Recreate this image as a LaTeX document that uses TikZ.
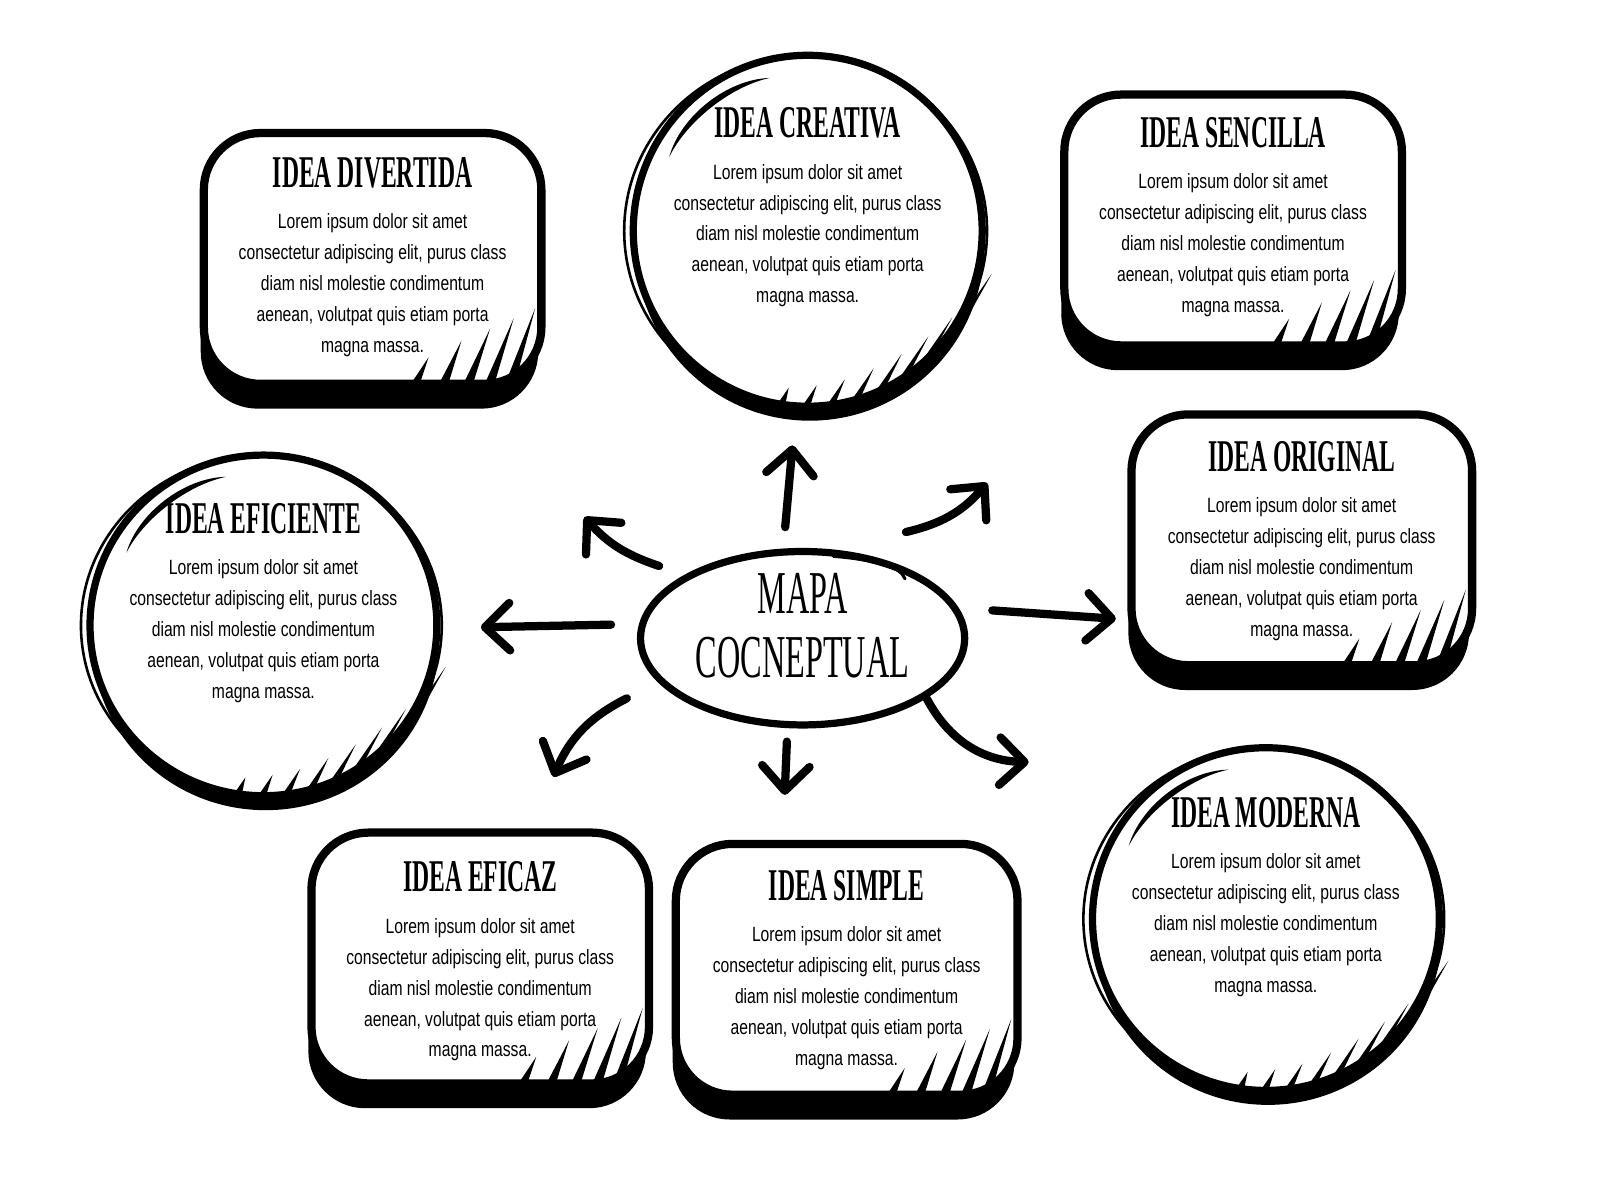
\documentclass[tikz,border=0pt]{standalone}
\usepackage{fontspec}
\usetikzlibrary{shapes.geometric,positioning,calc,shadows,arrows.meta}
\newfontfamily\titlefont[FakeStretch=0.52]{Liberation Serif}
\newfontfamily\hubfont[FakeStretch=0.53]{Liberation Serif}
\newfontfamily\bodyfont[FakeStretch=0.76]{Liberation Sans}
\newcommand{\ideatitle}[1]{{\titlefont\bfseries\fontsize{44}{44}\selectfont #1}}
\newcommand{\lorem}{Lorem ipsum dolor sit amet\\consectetur adipiscing elit, purus class\\diam nisl molestie condimentum\\aenean, volutpat quis etiam porta\\magna massa.}
% spikes in the lower right corner of a box
\newcommand{\boxhatch}[1]{%
  \foreach \bx/\tx/\ty in {-134/-114/30, -106/-82/46, -82/-54/58, -61/-31/68, -41/-10/78}
    \fill ($(#1.south east)+(\bx,0)$) -- ++(10,0) -- ($(#1.south east)+(\tx,\ty)$) -- cycle;}
% spikes along the lower right of a ball
\newcommand{\ringhatch}[1]{%
  \foreach \a/\l in {260/20, 268/26, 276/32, 284/40, 292/48, 300/56, 308/62, 316/68, 324/72}
    \fill ($(#1.center)!0.985!(#1.\a)$) -- ++(8,0) -- ++({0.57*\l-8},{0.82*\l}) -- cycle;}
% stroke in the upper left of a ball
\newcommand{\ringswoosh}[1]{%
  \fill ($(#1.center)!0.88!(#1.152)$) .. controls ($(#1.center)!0.96!(#1.138)$) and ($(#1.center)!0.96!(#1.118)$) .. ($(#1.center)!0.88!(#1.104)$)
     .. controls ($(#1.center)!0.915!(#1.118)$) and ($(#1.center)!0.915!(#1.138)$) .. cycle;}

\begin{document}
\begin{tikzpicture}[x=1pt, y=1pt]
    \tikzset{>=latex}
    \tikzstyle{ideabox}  = [rectangle, rounded corners=55pt, draw=black, line width=8pt, fill=white, minimum width=327pt, minimum height=243pt, drop shadow={shadow xshift=-3pt, shadow yshift=-24pt, opacity=1, fill=black}]
    \tikzstyle{ideaball} = [ellipse, draw=black, line width=7pt, fill=white, drop shadow={shadow xshift=2pt, shadow yshift=-14pt, opacity=1, fill=black}]
    \tikzstyle{ideatext} = [inner sep=0pt, align=center, font={\bodyfont\fontsize{20}{30}\selectfont}]
    \tikzstyle{ring}     = [line width=2.5pt]
    \tikzstyle{hub}      = [ellipse, draw=black, line width=7pt, minimum width=314pt, minimum height=168pt]
    \tikzstyle{arrow}    = [line width=8pt, line cap=round, -{Straight Barb[length=24pt, width=46pt, round]}]

    \useasboundingbox (0,0) rectangle (1550,1162.5);

  \begin{scope}[shift={(0,8)}, scale=0.993]
    % frames
    \node[ideabox] (divertida) at (363.5,910.5) {};
    \node[ideaball, minimum width=338pt, minimum height=340pt] (creativa) at (788,937.5) {};
    \node[ideabox] (sencilla) at (1203,948) {};
    \node[ideabox, minimum width=330pt] (original) at (1270,636) {};
    \node[ideaball, minimum width=336pt, minimum height=330pt] (eficiente) at (257,552.5) {};
    \node[ideabox] (eficaz) at (468.5,228) {};
    \node[ideabox, minimum width=331pt] (simple) at (826,217) {};
    \node[ideaball, minimum width=336pt, minimum height=332pt] (moderna) at (1235,266) {};
    \node[hub] (map) at (783,540) {};

    % sketchy extras
    \boxhatch{divertida}
    \boxhatch{sencilla}
    \boxhatch{original}
    \boxhatch{eficaz}
    \boxhatch{simple}
    \ringhatch{creativa}
    \ringhatch{eficiente}
    \ringhatch{moderna}
    \ringswoosh{creativa}
    \ringswoosh{eficiente}
    \ringswoosh{moderna}
    \draw[ring] ([xshift=-2pt]creativa.center) ellipse [x radius=177, y radius=171];
    \draw[ring] ([xshift=-2pt]eficiente.center) ellipse [x radius=176, y radius=166];
    \draw[ring] ([xshift=-2pt]moderna.center) ellipse [x radius=176, y radius=167];
    \draw[line width=3pt, line cap=round] ($(map.center)+(30,80)$) .. controls ($(map.center)+(75,76)$) and ($(map.center)+(95,70)$) .. ($(map.center)+(100,58)$);

    % texts
    \node[ideatext, below=27pt of divertida.north] (divertida-t) {\ideatitle{IDEA DIVERTIDA}\\[10pt]\lorem};
    \node[ideatext, below=54pt of creativa.north] (creativa-t) {\ideatitle{IDEA CREATIVA}\\[10pt]\lorem};
    \node[ideatext, below=26pt of sencilla.north] (sencilla-t) {\ideatitle{IDEA SENCILLA}\\[10pt]\lorem};
    \node[ideatext, below=30pt of original.north] (original-t) {\ideatitle{IDEA ORIGINAL}\\[10pt]\lorem};
    \node[ideatext, below=50pt of eficiente.north] (eficiente-t) {\ideatitle{IDEA EFICIENTE}\\[10pt]\lorem};
    \node[ideatext, below=32pt of eficaz.north] (eficaz-t) {\ideatitle{IDEA EFICAZ}\\[10pt]\lorem};
    \node[ideatext, below=29pt of simple.north] (simple-t) {\ideatitle{IDEA SIMPLE}\\[10pt]\lorem};
    \node[ideatext, below=51pt of moderna.north] (moderna-t) {\ideatitle{IDEA MODERNA}\\[10pt]\lorem};
    \node[inner sep=0pt, align=center, font={\hubfont\fontsize{59}{62}\selectfont}] (map-t) at ([yshift=12pt]map.center) {MAPA\\COCNEPTUAL};

    % arrows
    \draw[arrow] ($(map)!0.276!9.6:(creativa)$) -- ($(map)!0.474!3.7:(creativa)$);
    \draw[arrow] ($(map)!0.247!1.6:(sencilla)$) to[bend right=18] ($(map)!0.402!-4.1:(sencilla)$);
    \draw[arrow] ($(map)!0.280!14.7:(divertida)$) to[bend left=15] ($(map)!0.435!12.4:(divertida)$);
    \draw[arrow] ($(map)!0.356!-2.7:(eficiente)$) -- ($(map)!0.597!-0.6:(eficiente)$);
    \draw[arrow] ($(map)!0.377!-2.8:(original)$) -- ($(map)!0.617!-7.6:(original)$);
    \draw[arrow] ($(map)!0.409!-25.9:(eficaz)$) to[bend right=20] ($(map)!0.628!-15.7:(eficaz)$);
    \draw[arrow] ($(map)!0.313!-16.2:(simple)$) -- ($(map)!0.472!-14.1:(simple)$);
    \draw[arrow] ($(map)!0.255!5.3:(moderna)$) to[bend right=30] ($(map)!0.476!2.5:(moderna)$);
  \end{scope}
\end{tikzpicture}
\end{document}
